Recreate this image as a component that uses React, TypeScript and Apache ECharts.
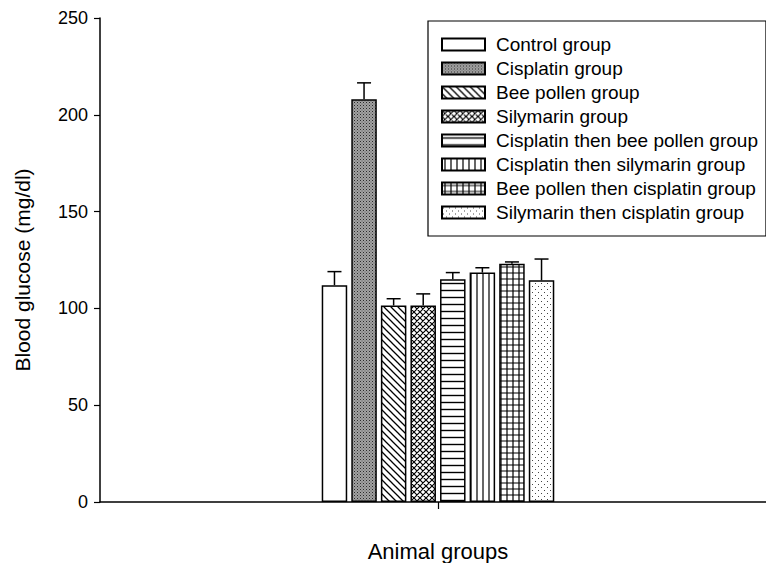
import React, { useEffect, useRef } from "react";
import * as echarts from "echarts";

const groupNames = [
  "Control group",
  "Cisplatin group",
  "Bee pollen group",
  "Silymarin group",
  "Cisplatin then bee pollen group",
  "Cisplatin then silymarin group",
  "Bee pollen then cisplatin group",
  "Silymarin then cisplatin group",
];
const meanValues = [112, 208, 101.5, 101.5, 115, 118.5, 123, 114.5];
const errorValues = [7, 8.5, 3.5, 6, 3.5, 2.5, 1, 11];
const xCategories = [""];
const yTicks = { min: 0, max: 250, interval: 50 };

const svgUrl = (w: number, h: number, body: string) =>
  "data:image/svg+xml;utf8," +
  encodeURIComponent(
    `<svg xmlns="http://www.w3.org/2000/svg" width="${w}" height="${h}" viewBox="0 0 ${w} ${h}">${body}</svg>`
  );

const pat = (w: number, h: number, body: string) => ({
  image: svgUrl(w, h, body),
  repeat: "repeat",
  imageWidth: w,
  imageHeight: h,
});

const fills: any[] = [
  "#ffffff",
  pat(3, 3, `<rect width="3" height="3" fill="#a2a2a2"/><rect x="0" y="0" width="1" height="1" fill="#2a2a2a"/><rect x="1.5" y="1.5" width="1" height="1" fill="#555"/>`),
  pat(7, 7, `<rect width="7" height="7" fill="#fff"/><path d="M-1,-1 L8,8 M-1,6 L1,8 M6,-1 L8,1" stroke="#000" stroke-width="1.3"/>`),
  pat(6, 6, `<rect width="6" height="6" fill="#fff"/><path d="M-1,-1 L7,7 M-1,5 L1,7 M5,-1 L7,1 M7,-1 L-1,7 M-1,1 L1,-1 M5,7 L7,5" stroke="#000" stroke-width="1.2"/>`),
  pat(7, 7, `<rect width="7" height="7" fill="#fff"/><path d="M0,3.5 L7,3.5" stroke="#000" stroke-width="1.4"/>`),
  pat(6, 6, `<rect width="6" height="6" fill="#fff"/><path d="M3,0 L3,6" stroke="#000" stroke-width="1.2"/>`),
  pat(6, 6, `<rect width="6" height="6" fill="#fff"/><path d="M3,0 L3,6 M0,3 L6,3" stroke="#000" stroke-width="1.2"/>`),
  pat(6, 6, `<rect width="6" height="6" fill="#fff"/><rect x="1" y="1" width="1" height="1" fill="#444"/><rect x="4" y="4" width="1" height="1" fill="#444"/>`),
];

const BAR_W = 25.5;
const BAR_GAP = 0.16;

export default function App() {
  const ref = useRef<HTMLDivElement>(null);
  useEffect(() => {
    if (!ref.current) return;
    const chart = echarts.init(ref.current, null, { renderer: "svg" });
    const font = "'Liberation Sans', Arial, sans-serif";
    const barSeries = groupNames.map((name, i) => ({
      name,
      type: "bar",
      data: [meanValues[i]],
      barWidth: BAR_W,
      barGap: `${BAR_GAP * 100}%`,
      itemStyle: { color: fills[i], borderColor: "#000", borderWidth: 1.5 },
      z: 2,
    }));
    const n = groupNames.length;
    const pitch = BAR_W * (1 + BAR_GAP);
    const errorSeries = {
      name: "error",
      type: "custom",
      z: 3,
      data: meanValues.map((m, i) => [0, m, errorValues[i]]),
      encode: { x: 0, y: 1 },
      renderItem: (params: any, api: any) => {
        const i = params.dataIndex;
        const mean = api.value(1);
        const err = api.value(2);
        const base = api.coord([0, mean]);
        const top = api.coord([0, mean + err]);
        const x = base[0] + (i - (n - 1) / 2) * pitch;
        const st = { stroke: "#000", lineWidth: 1.5 };
        return {
          type: "group",
          children: [
            { type: "line", shape: { x1: x, y1: base[1], x2: x, y2: top[1] }, style: st },
            { type: "line", shape: { x1: x - 7, y1: top[1], x2: x + 7, y2: top[1] }, style: st },
          ],
        };
      },
    };
    chart.setOption({
      animation: false,
      textStyle: { fontFamily: font, color: "#000" },
      grid: { left: 100, top: 18, width: 676, height: 484, outerBoundsMode: "none", containLabel: false },
      xAxis: {
        type: "category",
        data: xCategories,
        name: "Animal groups",
        nameLocation: "middle",
        nameGap: 38,
        nameTextStyle: { fontSize: 22, color: "#000", fontFamily: font },
        axisLine: { lineStyle: { color: "#000", width: 1.5 } },
        axisTick: { show: true, interval: 0, alignWithLabel: true, length: 7, lineStyle: { color: "#000", width: 1.2 } },
        axisLabel: { show: true, interval: 0, formatter: () => "" },
        z: 5,
      },
      yAxis: {
        type: "value",
        min: yTicks.min,
        max: yTicks.max,
        interval: yTicks.interval,
        splitLine: { show: false },
        axisLine: { show: true, lineStyle: { color: "#000", width: 1.5 } },
        axisTick: { show: true, length: 6, lineStyle: { color: "#000", width: 1.2 } },
        axisLabel: { fontSize: 18, color: "#000", margin: 12, fontFamily: font },
      },
      legend: {
        data: groupNames,
        orient: "vertical",
        left: 428,
        top: 21,
        padding: [14, 8, 14, 13],
        itemWidth: 43,
        itemHeight: 12,
        itemGap: 5,
        icon: "rect",
        borderColor: "#000",
        borderWidth: 1.2,
        backgroundColor: "#fff",
        textStyle: { fontSize: 19, color: "#000", fontFamily: font, padding: [0, 0, 0, 6] },
        selectedMode: false,
      },
      graphic: [
        {
          type: "text",
          x: 22,
          y: 270,
          rotation: Math.PI / 2,
          style: {
            text: "Blood glucose (mg/dl)",
            fontSize: 21,
            fontFamily: font,
            fill: "#000",
            align: "center",
            verticalAlign: "middle",
          },
        },
      ],
      series: [...barSeries, errorSeries],
    });
    return () => chart.dispose();
  }, []);
  return (
    <div
      ref={ref}
      style={{ position: "absolute", left: 0, top: 0, width: 766, height: 563, background: "#fff" }}
    />
  );
}
